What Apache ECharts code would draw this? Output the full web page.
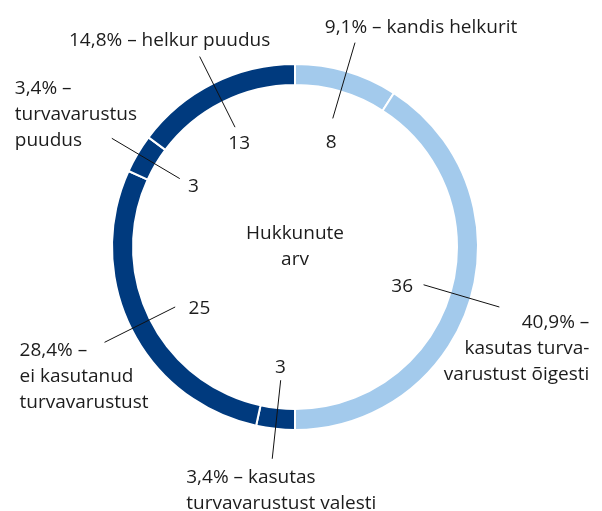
<!DOCTYPE html>
<html>
<head>
<meta charset="utf-8">
<script src="https://cdn.jsdelivr.net/npm/echarts@6/dist/echarts.min.js"></script>
<style>
html, body { margin:0; padding:0; background:#fff; }
#main { width:602px; height:511px; }
</style>
</head>
<body>
<div id="main"></div>
<script>
// andmed: hukkunute arv, päripäeva alates ülevalt
var categories = ['kandis helkurit', 'kasutas turvavarustust õigesti', 'kasutas turvavarustust valesti',
	'ei kasutanud turvavarustust', 'turvavarustus puudus', 'helkur puudus'];
var values = [8, 36, 3, 25, 3, 13];
var labelTexts = ['{p} – kandis helkurit', '{p} –\nkasutas turva-\nvarustust õigesti', '{p} – kasutas\nturvavarustust valesti',
	'{p} –\nei kasutanud\nturvavarustust', '{p} –\nturvavarustus\npuudus', '{p} – helkur puudus'];
var centerText = 'Hukkunute\narv';

// stiil
var LIGHT = '#a3caec', DARK = '#003a7e';
var colors = [LIGHT, LIGHT, DARK, DARK, DARK, DARK];
// välimiste siltide paigutus juhtjoone otsa suhtes
var place = [
	{ align:'center', dx:66,  dy:-28 },
	{ align:'right',  dx:90,  dy:3 },
	{ align:'left',   dx:-86, dy:6 },
	{ align:'left',   dx:-85, dy:-5 },
	{ align:'left',   dx:-97, dy:-63 },
	{ align:'center', dx:-30, dy:-29 }
];
// arvude nihe
var numShift = [[3, 9], [-6, 6], [-2, 3], [10, 9], [0, 0], [-3, 2]];
var FONT = 'Open Sans', TXT = '#1c1c1c', CENTER = [295, 247];

var total = values.reduce(function(a, b){ return a + b; }, 0);
function pct(v){ return (v / total * 100).toFixed(1).replace('.', ',') + '%'; }

var ringData = values.map(function(v, i){
	return { name: categories[i], value: v, itemStyle: { color: colors[i] } };
});
var ghostData = values.map(function(v, i){
	return { name: categories[i], value: v };
});
var txt = { fontFamily: FONT, fontSize: 19, color: TXT, lineHeight: 26 };

var option = {
	animation: false,
	series: [
		{
			type: 'pie', silent: true, z: 1, center: CENTER, radius: [162, 183], startAngle: 90,
			itemStyle: { borderColor: '#fff', borderWidth: 2 },
			label: { show: false }, labelLine: { show: false },
			data: ringData
		},
		{	// arvud rõnga sees
			type: 'pie', silent: true, z: 3, center: CENTER, radius: [0, 230], startAngle: 90,
			itemStyle: { color: 'transparent' },
			label: Object.assign({ show: true, position: 'inside', formatter: '{c}' }, txt),
			labelLine: { show: false },
			labelLayout: function(p){
				var s = numShift[p.dataIndex];
				return { dx: s[0], dy: s[1] };
			},
			data: ghostData
		},
		{	// juhtjooned ja protsendid
			type: 'pie', silent: true, z: 5, zlevel: 1, center: CENTER, radius: [0, 134], startAngle: 90,
			avoidLabelOverlap: false,
			itemStyle: { color: 'transparent' },
			label: Object.assign({ show: true, position: 'outside',
				formatter: function(p){ return labelTexts[p.dataIndex].replace('{p}', pct(p.value)); } }, txt),
			labelLine: { show: true, length: 79, length2: 0, minTurnAngle: 0, maxSurfaceAngle: 180,
				lineStyle: { color: '#111', width: 1 } },
			labelLayout: function(p){
				var pts = p.labelLinePoints, s = place[p.dataIndex];
				if(!pts) return {};
				var end = pts[1];
				return { x: end[0] + s.dx, y: end[1] + s.dy, align: s.align, verticalAlign: 'top',
					labelLinePoints: [pts[0], pts[1]] };
			},
			data: ghostData
		},
		{	// keskmine tekst
			type: 'pie', silent: true, center: CENTER, radius: [0, 1],
			itemStyle: { color: 'transparent' },
			label: Object.assign({ show: true, position: 'center', formatter: centerText }, txt),
			labelLine: { show: false },
			data: [{ name: 'center', value: 1 }]
		}
	]
};

var myChart = echarts.init(document.getElementById('main'));
myChart.setOption(option);
</script>
</body>
</html>
